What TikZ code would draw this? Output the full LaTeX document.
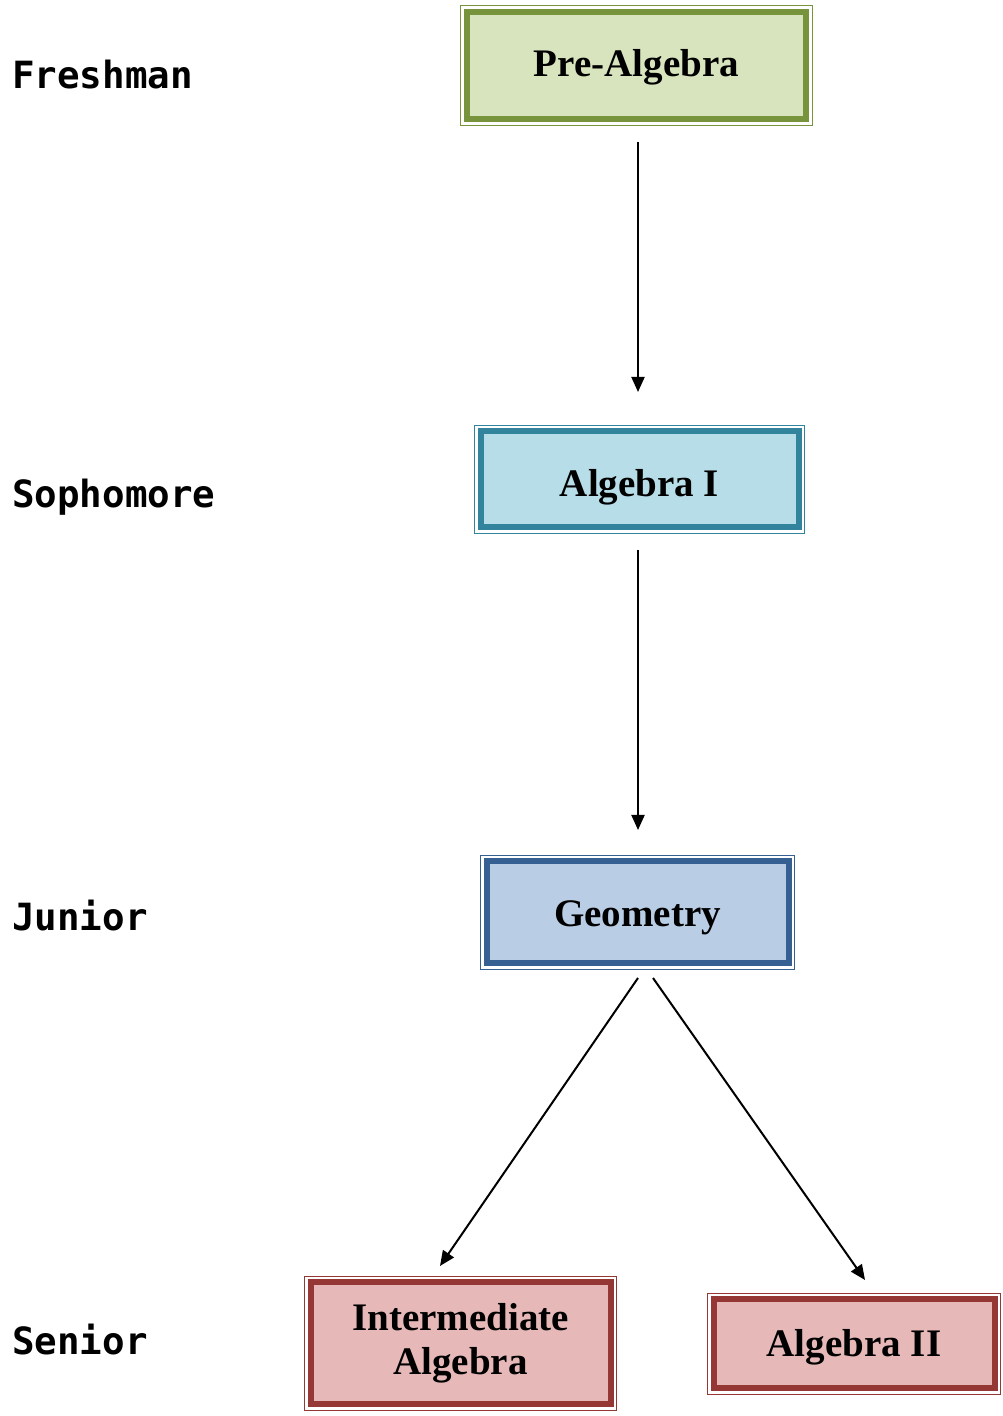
\documentclass[tikz,border=0pt]{standalone}
\usepackage{fontspec}
\setmainfont{Liberation Serif}
\newfontfamily\labelfont{DejaVu Sans Mono}
\usetikzlibrary{arrows.meta}
\definecolor{gborder}{HTML}{77933C}
\definecolor{gfill}{HTML}{D7E4BD}
\definecolor{tborder}{HTML}{31849B}
\definecolor{tfill}{HTML}{B7DDE8}
\definecolor{bborder}{HTML}{376092}
\definecolor{bfill}{HTML}{B9CDE5}
\definecolor{rborder}{HTML}{953735}
\definecolor{rfill}{HTML}{E6B9B8}
\tikzset{
  course/.style={rectangle, line width=6pt, inner sep=0pt, outer sep=0pt, align=center,
    font=\fontsize{39}{44}\selectfont\bfseries},
  drop/.style={text depth=10pt, text height={2*#1+10pt}},
  outerline/.style={line width=1.2pt},
  yearlabel/.style={anchor=base west, inner sep=0pt, font=\labelfont\fontsize{37.5}{43}\selectfont\bfseries},
  flow/.style={line width=2pt, -{Triangle[length=15pt,width=13pt]}}
}
\begin{document}
\begin{tikzpicture}[x=1pt,y=1pt]
\useasboundingbox (0,0) rectangle (1003,1416);
% outer thin frames
\draw[outerline, gborder] (460.5,1416-5.5) rectangle (812.5,1416-125.5);
\draw[outerline, tborder] (474.5,1416-425.5) rectangle (804.5,1416-533.5);
\draw[outerline, bborder] (480.5,1416-855.5) rectangle (794.5,1416-969.5);
\draw[outerline, rborder] (304.5,1416-1276.5) rectangle (616.5,1416-1410.5);
\draw[outerline, rborder] (707.5,1416-1293.5) rectangle (1000.5,1416-1394.5);
% course boxes
\node[course, drop=11pt, draw=gborder, fill=gfill, minimum width=339, minimum height=107] (pa) at (636.5,1416-65.5) {Pre-Algebra};
\node[course, drop=17pt, draw=tborder, fill=tfill, minimum width=318, minimum height=96] (a1) at (639.5,1416-479.5) {Algebra I};
\node[course, drop=14.5pt, draw=bborder, fill=bfill, minimum width=302, minimum height=102] (ge) at (637.5,1416-912.5) {Geometry};
\node[course, draw=rborder, fill=rfill, minimum width=300, minimum height=122] (ia) at (460.5,1416-1343.5) {Intermediate\\Algebra};
\node[course, drop=13pt, draw=rborder, fill=rfill, minimum width=281, minimum height=89] (a2) at (854,1416-1344) {Algebra II};
% year labels
\node[yearlabel] (fr) at (12,1416-89) {Freshman};
\node[yearlabel] (so) at (12,1416-508) {Sophomore};
\node[yearlabel] (ju) at (12,1416-931) {Junior};
\node[yearlabel] (se) at (12,1416-1355) {Senior};
% connector end points
\coordinate (pas) at (638,1416-142);
\coordinate (a1n) at (638,1416-392);
\coordinate (a1s) at (638,1416-550);
\coordinate (gen) at (638,1416-830);
\coordinate (gesl) at (638,1416-978);
\coordinate (gesr) at (653,1416-978);
\coordinate (ian) at (440,1416-1266);
\coordinate (a2n) at (865,1416-1280);
\draw[flow] (pas) -- (a1n);
\draw[flow] (a1s) -- (gen);
\draw[flow] (gesl) -- (ian);
\draw[flow] (gesr) -- (a2n);
\end{tikzpicture}
\end{document}
